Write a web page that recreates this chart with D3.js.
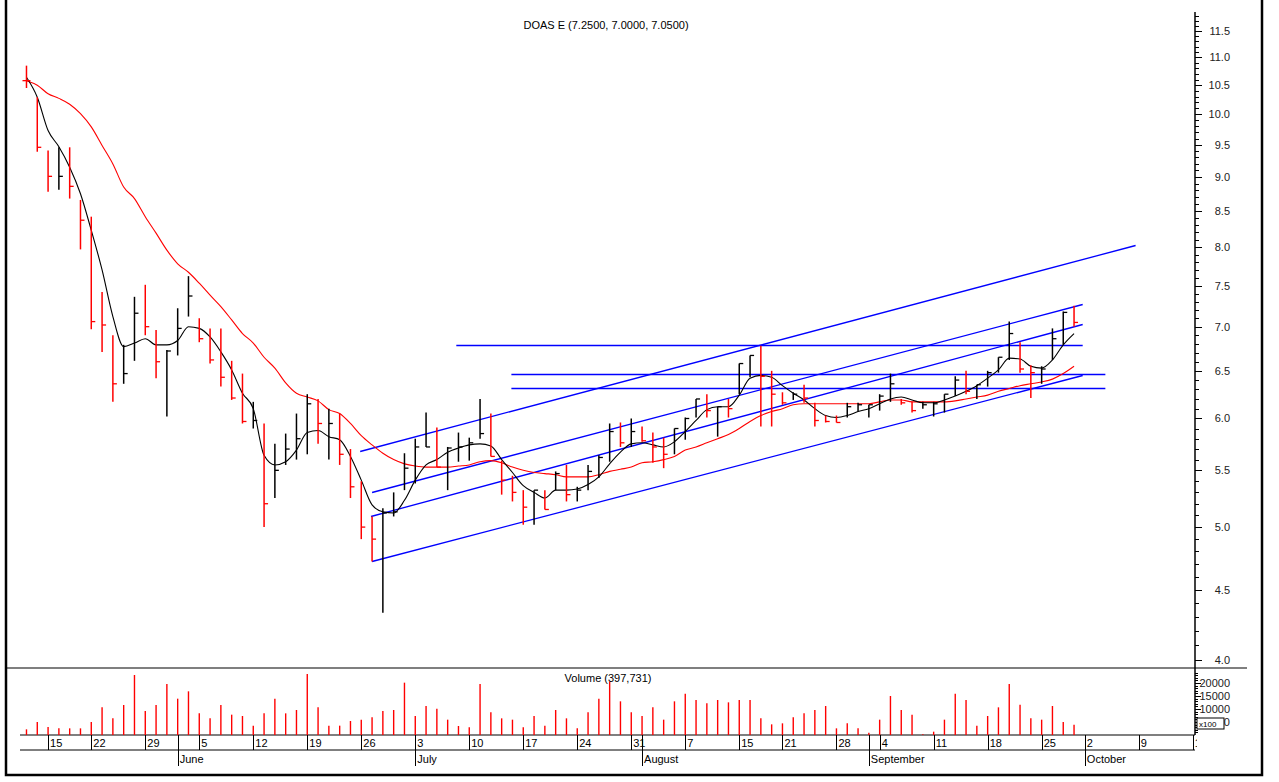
<!DOCTYPE html>
<html>
<head>
<meta charset="utf-8">
<script src="https://cdn.jsdelivr.net/npm/d3@7"></script>
<style>
  body { margin: 0; background: #fff; }
  svg { display: block; font-family: "Liberation Sans", Arial, sans-serif; }
</style>
</head>
<body>
<div id="chart"></div>
<script>
// ---- data ----
var chartTitle = "DOAS E (7.2500, 7.0000, 7.0500)";
var volumeTitle = "Volume (397,731)";
var startDate = "2006-05-11";
var endDate = "2006-10-20";
var holidays = ["2006-05-19", "2006-08-14", "2006-08-31", "2006-09-29"];

var highs = [10.85, 10.29, 9.41, 9.46, 9.46, 8.66, 8.42, 7.42, 6.90, 6.79,
  7.36, 7.51, 6.96, 6.73, 7.22, 7.62, 7.10, 6.98, 6.98, 6.61,
  6.47, 6.17, 5.95, 5.75, 5.85, 6.05, 6.25, 6.20, 6.10, 6.05,
  5.70, 5.40, 5.09, 5.16, 5.30, 5.66, 5.80, 6.06, 5.91, 5.72,
  5.86, 5.81, 6.20, 6.05, 5.59, 5.45, 5.32, 5.32, 5.32, 5.49,
  5.55, 5.35, 5.55, 5.64, 5.95, 5.96, 6.00, 5.92, 5.86, 5.81,
  5.90, 6.01, 6.20, 6.25, 6.12, 6.20, 6.58, 6.67, 6.78, 6.50,
  6.27, 6.27, 6.35, 6.16, 6.03, 6.03, 6.16, 6.16, 6.14, 6.25,
  6.47, 6.20, 6.17, 6.17, 6.17, 6.25, 6.44, 6.50, 6.35, 6.50,
  6.65, 7.06, 6.82, 6.56, 6.55, 6.98, 7.18, 7.25];
var lows = [10.45, 9.39, 8.78, 8.81, 8.68, 7.97, 6.97, 6.71, 6.17, 6.36,
  6.61, 6.90, 6.42, 6.02, 6.67, 7.12, 6.82, 6.58, 6.33, 6.19,
  5.95, 5.90, 5.00, 5.25, 5.55, 5.60, 5.65, 5.75, 5.60, 5.55,
  5.25, 4.90, 4.72, 4.33, 5.09, 5.32, 5.38, 5.72, 5.53, 5.32,
  5.58, 5.59, 5.80, 5.63, 5.28, 5.22, 5.02, 5.02, 5.15, 5.32,
  5.22, 5.22, 5.32, 5.43, 5.58, 5.72, 5.72, 5.77, 5.57, 5.52,
  5.65, 5.79, 6.01, 6.01, 5.82, 6.01, 6.25, 6.43, 5.92, 5.92,
  6.14, 6.19, 6.16, 5.92, 5.96, 5.96, 6.01, 6.07, 6.01, 6.08,
  6.17, 6.14, 6.06, 6.10, 6.02, 6.06, 6.23, 6.25, 6.20, 6.33,
  6.48, 6.62, 6.48, 6.21, 6.36, 6.62, 6.79, 7.00];
var closes = [10.58, 9.46, 9.01, 9.01, 8.86, 8.37, 7.06, 7.02, 6.36, 6.47,
  7.16, 7.00, 6.60, 6.72, 6.98, 7.37, 6.86, 6.62, 6.43, 6.21,
  5.97, 5.98, 5.20, 5.50, 5.70, 5.80, 6.15, 5.95, 5.95, 5.65,
  5.35, 5.00, 4.90, 5.12, 5.13, 5.52, 5.72, 5.72, 5.53, 5.71,
  5.72, 5.76, 5.85, 5.63, 5.41, 5.30, 5.17, 5.32, 5.15, 5.47,
  5.28, 5.32, 5.49, 5.62, 5.87, 5.76, 5.87, 5.78, 5.72, 5.65,
  5.90, 6.00, 6.20, 6.08, 6.12, 6.10, 6.58, 6.67, 6.44, 6.25,
  6.16, 6.25, 6.21, 5.98, 5.97, 5.96, 6.12, 6.14, 6.14, 6.23,
  6.36, 6.16, 6.08, 6.14, 6.15, 6.25, 6.40, 6.28, 6.35, 6.48,
  6.65, 6.92, 6.52, 6.48, 6.52, 6.86, 7.17, 7.05];
var volumes = [2180, 5000, 3080, 2560, 2560, 2560, 5000, 10640, 6410, 11540,
  23080, 9230, 11540, 19600, 13970, 16800, 8330, 6410, 11540, 7820,
  7310, 3590, 8330, 13970, 8330, 9620, 23460, 10640, 3590, 3590,
  5380, 5900, 6790, 9230, 9620, 20130, 7310, 11150, 10130, 5900,
  3460, 2950, 19600, 8720, 6410, 5900, 2950, 7310, 3590, 9620,
  6410, 2560, 8720, 13970, 20510, 12950, 8720, 7310, 10640, 5900,
  12950, 15900, 13460, 12180, 13460, 12560, 13460, 13460, 6410, 4100,
  4490, 6790, 8330, 9620, 11150, 2560, 4490, 2560, 900, 5900,
  15000, 9620, 7820, 300, 1280, 5900, 15900, 13460, 3590, 7310,
  10640, 19600, 11670, 6410, 5900, 11150, 5000, 3977];
var maFast = [10.64, 10.29, 9.73, 9.47, 9.15, 8.75, 8.23, 7.70, 7.12, 6.77,
  6.81, 6.86, 6.79, 6.79, 6.84, 7.00, 6.98, 6.88, 6.71, 6.51,
  6.26, 6.10, 5.64, 5.55, 5.58, 5.69, 5.86, 5.88, 5.82, 5.79,
  5.63, 5.41, 5.19, 5.13, 5.12, 5.23, 5.41, 5.55, 5.60, 5.67,
  5.71, 5.74, 5.75, 5.73, 5.60, 5.48, 5.36, 5.30, 5.25, 5.32,
  5.32, 5.33, 5.37, 5.44, 5.56, 5.67, 5.75, 5.76, 5.74, 5.72,
  5.77, 5.87, 5.98, 6.09, 6.12, 6.12, 6.24, 6.42, 6.45, 6.43,
  6.34, 6.26, 6.19, 6.10, 6.03, 6.01, 6.03, 6.07, 6.10, 6.15,
  6.20, 6.22, 6.19, 6.16, 6.16, 6.19, 6.23, 6.28, 6.34, 6.42,
  6.51, 6.64, 6.63, 6.55, 6.53, 6.62, 6.79, 6.92];
var maSlow = [10.58, 10.50, 10.35, 10.27, 10.17, 10.01, 9.79, 9.49, 9.20, 8.85,
  8.68, 8.42, 8.19, 7.96, 7.78, 7.67, 7.53, 7.38, 7.24, 7.08,
  6.92, 6.81, 6.65, 6.53, 6.37, 6.26, 6.22, 6.18, 6.09, 6.05,
  5.95, 5.83, 5.74, 5.66, 5.60, 5.56, 5.54, 5.53, 5.53, 5.53,
  5.54, 5.55, 5.58, 5.59, 5.57, 5.53, 5.50, 5.48, 5.47, 5.46,
  5.44, 5.44, 5.44, 5.46, 5.49, 5.51, 5.53, 5.57, 5.58, 5.60,
  5.63, 5.69, 5.72, 5.76, 5.80, 5.84, 5.90, 5.97, 6.03, 6.07,
  6.10, 6.14, 6.15, 6.15, 6.15, 6.15, 6.15, 6.15, 6.15, 6.17,
  6.19, 6.19, 6.17, 6.17, 6.17, 6.17, 6.18, 6.20, 6.22, 6.24,
  6.28, 6.31, 6.34, 6.36, 6.38, 6.41, 6.47, 6.55];

// trend channel lines: [start bar, start price, end bar, end price]
var trendLines = [
  [30.9, 5.68, 102.7, 8.03],
  [32.0, 5.30, 97.8, 7.27],
  [31.9, 5.09, 97.8, 7.03],
  [32.0, 4.72, 97.8, 6.45],
  [39.8, 6.79, 97.8, 6.79],
  [44.9, 6.47, 99.9, 6.47],
  [44.9, 6.31, 99.9, 6.31]
];

var priceTicks = [4.0, 4.5, 5.0, 5.5, 6.0, 6.5, 7.0, 7.5, 8.0, 8.5, 9.0, 9.5, 10.0, 10.5, 11.0, 11.5];
var volumeTicks = [5000, 10000, 15000, 20000];

// ---- layout ----
var W = 1279, H = 782;
var plotLeft = 20, axisX = 1195;
var priceTop = 12, priceBottom = 668, volBottom = 735, dayRow = 750, monthRow = 766;

var svg = d3.select("#chart").append("svg")
    .attr("width", W)
    .attr("height", H);

// trading days (weekdays minus holidays)
var hol = new Set(holidays);
var fmt = d3.timeFormat("%Y-%m-%d");
var days = d3.timeDay.range(new Date(startDate + "T00:00"), new Date(endDate + "T00:00"))
  .filter(function (d) { return d.getDay() != 0 && d.getDay() != 6 && !hol.has(fmt(d)); });

var x = d3.scaleLinear().domain([-0.6, 108.2]).range([plotLeft, axisX]);
var y = d3.scaleLog().domain([4, 11.5]).range([660, 31]);
var yv = d3.scaleLinear().domain([0, 20000]).range([volBottom, 683]);
function snap(v) { return Math.round(v) + 0.5; }

// frame
svg.append("rect")
    .attr("x", 6).attr("y", -4)
    .attr("width", 1256).attr("height", 779)
    .attr("fill", "none").attr("stroke", "#000").attr("stroke-width", 2.5);

// pane separators and axis lines
svg.append("line").attr("x1", 6).attr("x2", 1247).attr("y1", priceBottom).attr("y2", priceBottom)
    .attr("stroke", "#000").attr("stroke-width", 1.2);
svg.append("line").attr("x1", axisX).attr("x2", axisX).attr("y1", priceTop).attr("y2", volBottom)
    .attr("stroke", "#000").attr("stroke-width", 1.5);
svg.append("line").attr("x1", plotLeft).attr("x2", axisX).attr("y1", volBottom).attr("y2", volBottom)
    .attr("stroke", "#000").attr("stroke-width", 1.2);
svg.append("line").attr("x1", plotLeft).attr("x2", axisX).attr("y1", dayRow).attr("y2", dayRow)
    .attr("stroke", "#000").attr("stroke-width", 1);

// title
svg.append("text")
    .attr("x", 606).attr("y", 29)
    .attr("text-anchor", "middle")
    .attr("font-size", 11)
    .text(chartTitle);

// price axis ticks
var minor = d3.range(40, 119).map(function (d) { return d / 10; });
svg.append("g").selectAll("line")
  .data(minor)
  .enter().append("line")
    .attr("x1", axisX).attr("x2", function (d) { return axisX + (Math.abs(d * 2 - Math.round(d * 2)) < 1e-6 ? 7 : 4); })
    .attr("y1", function (d) { return snap(y(d)); })
    .attr("y2", function (d) { return snap(y(d)); })
    .attr("stroke", "#000");
svg.append("g").selectAll("text")
  .data(priceTicks)
  .enter().append("text")
    .attr("x", 1230).attr("y", function (d) { return y(d) + 4; })
    .attr("text-anchor", "end")
    .attr("font-size", 11)
    .attr("fill", "#222")
    .text(function (d) { return d.toFixed(1); });

// volume axis ticks
var vMinor = d3.range(1000, 25000, 1000);
svg.append("g").selectAll("line")
  .data(vMinor)
  .enter().append("line")
    .attr("x1", axisX).attr("x2", function (d) { return axisX + (d % 5000 == 0 ? 6 : 3); })
    .attr("y1", function (d) { return snap(yv(d)); })
    .attr("y2", function (d) { return snap(yv(d)); })
    .attr("stroke", "#000");
svg.append("g").selectAll("text")
  .data(volumeTicks)
  .enter().append("text")
    .attr("x", 1230).attr("y", function (d) { return yv(d) + 4; })
    .attr("text-anchor", "end")
    .attr("font-size", 11)
    .attr("fill", "#222")
    .text(function (d) { return d; });
// the "x100" unit box sits over the lowest volume label, as in the source
svg.append("rect")
    .attr("x", 1197).attr("y", 718).attr("width", 27).attr("height", 11)
    .attr("fill", "#fff").attr("stroke", "#000");
svg.append("text")
    .attr("x", 1199).attr("y", 727)
    .attr("font-size", 8)
    .text("x100");

svg.append("text")
    .attr("x", 608).attr("y", 682)
    .attr("text-anchor", "middle")
    .attr("font-size", 11)
    .text(volumeTitle);

// date axis
svg.append("clipPath").attr("id", "dclip")
  .append("rect").attr("x", 0).attr("y", 700).attr("width", axisX + 2).attr("height", 80);
var weekStarts = [], monthStarts = [];
days.forEach(function (d, i) {
  if (i == 0 || x(i) > axisX + 1) return;
  if (+d3.timeMonday.floor(d) != +d3.timeMonday.floor(days[i - 1])) weekStarts.push(i);
  if (d.getMonth() != days[i - 1].getMonth()) monthStarts.push(i);
});
var dateAxis = svg.append("g").attr("clip-path", "url(#dclip)");
dateAxis.selectAll(".wk")
  .data(weekStarts)
  .enter().append("line")
    .attr("x1", function (i) { return snap(x(i)); })
    .attr("x2", function (i) { return snap(x(i)); })
    .attr("y1", volBottom).attr("y2", dayRow)
    .attr("stroke", "#000");
dateAxis.selectAll(".wkl")
  .data(weekStarts)
  .enter().append("text")
    .attr("x", function (i) { return x(i) + 2; })
    .attr("y", dayRow - 3)
    .attr("font-size", 11)
    .text(function (i) { return days[i].getDate(); });
dateAxis.selectAll(".mo")
  .data(monthStarts)
  .enter().append("line")
    .attr("x1", function (i) { return snap(x(i)); })
    .attr("x2", function (i) { return snap(x(i)); })
    .attr("y1", volBottom).attr("y2", monthRow)
    .attr("stroke", "#000");
dateAxis.selectAll(".mol")
  .data(monthStarts)
  .enter().append("text")
    .attr("x", function (i) { return x(i) + 2; })
    .attr("y", monthRow - 3)
    .attr("font-size", 11)
    .text(function (i) { return d3.timeFormat("%B")(days[i]); });

// volume bars
svg.append("g").selectAll("line")
  .data(volumes)
  .enter().append("line")
    .attr("x1", function (d, i) { return x(i); })
    .attr("x2", function (d, i) { return x(i); })
    .attr("y1", yv(0))
    .attr("y2", function (d) { return yv(d); })
    .attr("stroke", "#ff0000")
    .attr("stroke-width", 1.4);

// trend channels
svg.append("g").selectAll("line")
  .data(trendLines)
  .enter().append("line")
    .attr("x1", function (d) { return x(d[0]); })
    .attr("y1", function (d) { return snap(y(d[1])); })
    .attr("x2", function (d) { return x(d[2]); })
    .attr("y2", function (d) { return snap(y(d[3])); })
    .attr("stroke", "#0000ff")
    .attr("stroke-width", 1.3);

// moving averages
var maLine = d3.line()
  .x(function (d, i) { return x(i); })
  .y(function (d) { return y(d); })
  .curve(d3.curveMonotoneX);
svg.append("path").datum(maSlow)
    .attr("d", maLine)
    .attr("fill", "none").attr("stroke", "#ff0000").attr("stroke-width", 1.1);
svg.append("path").datum(maFast)
    .attr("d", maLine)
    .attr("fill", "none").attr("stroke", "#000").attr("stroke-width", 1.1);

// HLC bars, first bar also shows its opening tick
function barColor(i) { return (i > 0 && closes[i] >= closes[i - 1]) ? "#000" : "#ff0000"; }
var bars = svg.append("g").selectAll("g")
  .data(closes)
  .enter().append("g");
bars.append("line")
    .attr("x1", function (d, i) { return x(i); })
    .attr("x2", function (d, i) { return x(i); })
    .attr("y1", function (d, i) { return y(highs[i]); })
    .attr("y2", function (d, i) { return y(lows[i]); })
    .attr("stroke", function (d, i) { return barColor(i); })
    .attr("stroke-width", 1.5);
bars.append("line")
    .attr("x1", function (d, i) { return i == 0 ? x(i) - 4 : x(i); })
    .attr("x2", function (d, i) { return x(i) + 4; })
    .attr("y1", function (d) { return y(d); })
    .attr("y2", function (d) { return y(d); })
    .attr("stroke", function (d, i) { return barColor(i); })
    .attr("stroke-width", 1.3);
</script>
</body>
</html>
